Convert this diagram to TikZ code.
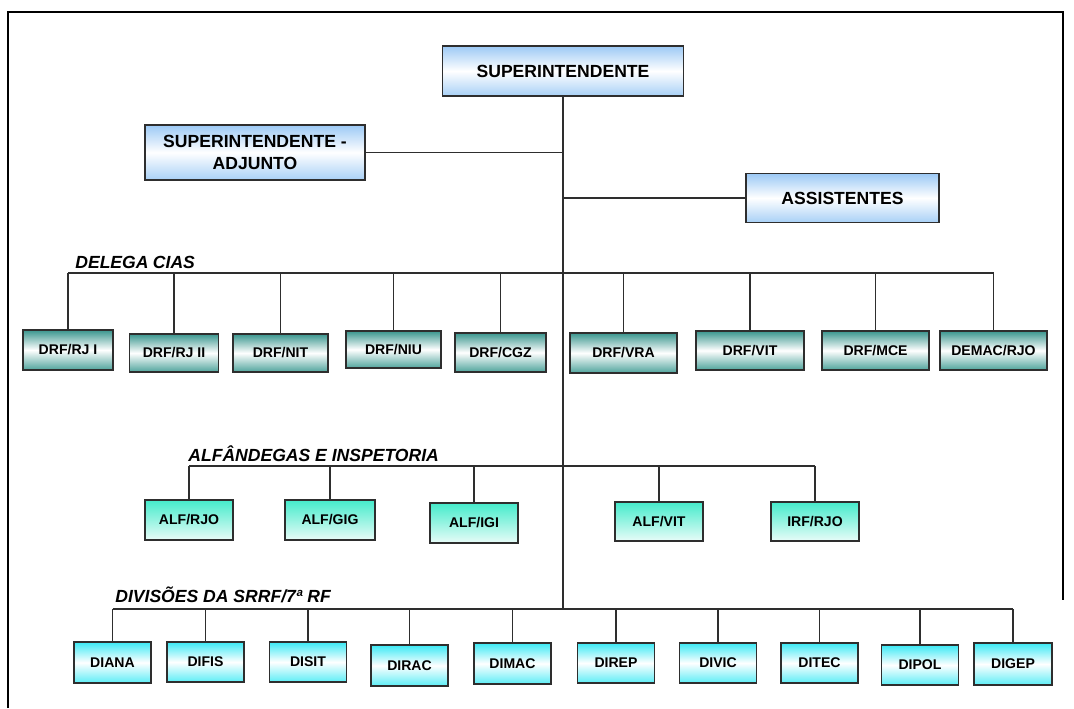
\documentclass[tikz,border=0pt]{standalone}
\usepackage{fontspec}
\setmainfont{Liberation Sans}
\definecolor{topA}{HTML}{9CC9F5}
\definecolor{topB}{HTML}{A8D0F6}
\definecolor{delA}{HTML}{3A968E}
\definecolor{delB}{HTML}{4FA49C}
\definecolor{alfA}{HTML}{45EBCB}
\definecolor{alfB}{HTML}{E8FCF8}
\definecolor{divA}{HTML}{3BE9F5}
\definecolor{divB}{HTML}{5CEDF6}
\definecolor{edge}{HTML}{2E2E2E}
\newcommand\bx[7]{\node[#1,minimum width=#5*0.02cm,minimum height=#6*0.02cm] (#2) at (#3,#4) {#7};}
\begin{document}
\begin{tikzpicture}[x=0.02cm,y=-0.02cm,
  box/.style={draw=edge,line width=1pt,inner sep=0pt,align=center,
    font=\bfseries\fontsize{8}{9}\selectfont},
  topbox/.style={box,top color=topA,bottom color=topB,middle color=white,
    font=\bfseries\fontsize{10}{12.5}\selectfont},
  delbox/.style={box,top color=delA,bottom color=delB,middle color=white},
  alfbox/.style={box,top color=alfA,bottom color=alfB},
  divbox/.style={box,top color=divA,bottom color=divB,middle color=white},
  lab/.style={anchor=base west,inner sep=0pt,font=\bfseries\itshape\fontsize{10}{12}\selectfont},
  wire/.style={draw=edge,line width=1pt},
  frame/.style={draw=black,line width=1.3pt}]
\useasboundingbox (0,0) rectangle (1074,708);
\draw[frame] (8,708) -- (8,12) -- (1063,12) -- (1063,600);

% top level
\bx{topbox}{sup}{563}{71}{241}{50}{SUPERINTENDENTE}
\bx{topbox}{adj}{255}{152.5}{220}{55}{SUPERINTENDENTE -\\ADJUNTO}
\bx{topbox}{ass}{842.5}{198}{193}{49}{ASSISTENTES}

\coordinate (dbus) at (563,273);
\coordinate (abus) at (563,466);
\coordinate (vbus) at (563,609);

% delegacias
\node[lab] (ldel) at (75,268) {DELEGA\hspace{2.5pt}CIAS};
\bx{delbox}{d1}{68}{350}{90}{40}{DRF/RJ I}
\bx{delbox}{d2}{174}{353}{89}{38}{DRF/RJ II}
\bx{delbox}{d3}{280.5}{353}{95}{38}{DRF/NIT}
\bx{delbox}{d4}{393.5}{349.5}{95}{37}{DRF/NIU}
\bx{delbox}{d5}{500.5}{352.5}{91}{39}{DRF/CGZ}
\bx{delbox}{d6}{623.5}{353}{107}{40}{DRF/VRA}
\bx{delbox}{d7}{750}{350.5}{108}{39}{DRF/VIT}
\bx{delbox}{d8}{875.5}{350.5}{107}{39}{DRF/MCE}
\bx{delbox}{d9}{993.5}{350.5}{107}{39}{DEMAC/RJO}

% alfandegas
\node[lab] (lalf) at (188,461) {ALFÂNDEGAS E INSPETORIA};
\bx{alfbox}{a1}{189}{520}{88}{40}{ALF/RJO}
\bx{alfbox}{a2}{330}{520}{90}{40}{ALF/GIG}
\bx{alfbox}{a3}{474}{523}{88}{40}{ALF/IGI}
\bx{alfbox}{a4}{659}{521.5}{88}{39}{ALF/VIT}
\bx{alfbox}{a5}{815}{521.5}{88}{39}{IRF/RJO}

% divisoes
\node[lab] (ldiv) at (115,602) {DIVISÕES DA SRRF/7ª RF};
\bx{divbox}{v1}{112.5}{662.5}{77}{41}{DIANA}
\bx{divbox}{v2}{205.5}{662}{77}{40}{DIFIS}
\bx{divbox}{v3}{308}{662}{77}{40}{DISIT}
\bx{divbox}{v4}{409.5}{665.5}{77}{41}{DIRAC}
\bx{divbox}{v5}{512.5}{663.5}{77}{41}{DIMAC}
\bx{divbox}{v6}{616}{663}{77}{40}{DIREP}
\bx{divbox}{v7}{718}{663}{77}{40}{DIVIC}
\bx{divbox}{v8}{819.5}{663}{77}{40}{DITEC}
\bx{divbox}{v9}{920}{665}{77}{40}{DIPOL}
\bx{divbox}{v10}{1013}{664}{78}{42}{DIGEP}

% connectors
\draw[wire] (sup.south) -- (vbus);
\draw[wire] (adj.east) -- (adj.east -| sup.south);
\draw[wire] (ass.west) -- (ass.west -| sup.south);

\draw[wire] (d1.north |- dbus) -- (d9.north |- dbus);
\foreach \i in {1,...,9} \draw[wire] (d\i.north) -- (d\i.north |- dbus);

\draw[wire] (a1.north |- abus) -- (a5.north |- abus);
\foreach \i in {1,...,5} \draw[wire] (a\i.north) -- (a\i.north |- abus);

\draw[wire] (v1.north |- vbus) -- (v10.north |- vbus);
\foreach \i in {1,...,10} \draw[wire] (v\i.north) -- (v\i.north |- vbus);
\end{tikzpicture}
\end{document}
